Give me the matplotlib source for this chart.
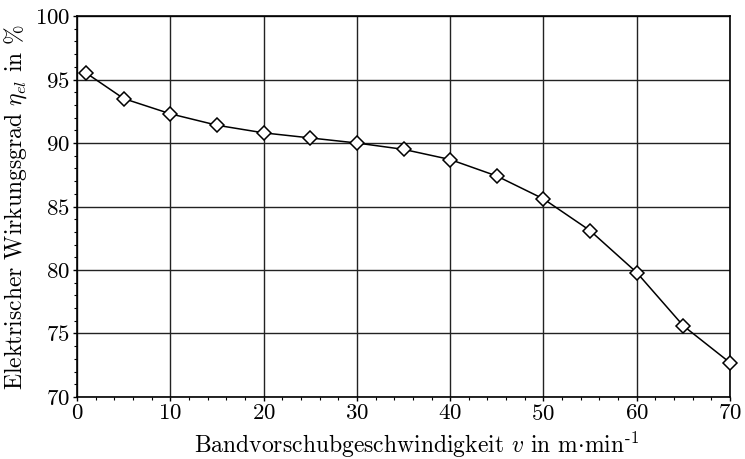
import numpy as np
import matplotlib
matplotlib.use("Agg")
import matplotlib.pyplot as plt
from matplotlib.ticker import MultipleLocator

# Wirkungsgrad ueber Bandvorschubgeschwindigkeit
v = [1, 5, 10, 15, 20, 25, 30, 35, 40, 45, 50, 55, 60, 65, 70]
eta = [95.5, 93.5, 92.3, 91.4, 90.8, 90.4, 90.0, 89.5, 88.7, 87.4,
       85.6, 83.1, 79.8, 75.6, 72.7]

plt.rcParams['font.family'] = ['cmr10', 'DejaVu Serif']
plt.rcParams['mathtext.fontset'] = 'cm'
plt.rcParams['axes.formatter.use_mathtext'] = True

fig = plt.figure(figsize=(7.45, 4.59), dpi=100)
ax = fig.add_axes([0.1034, 0.1351, 0.8765, 0.83])

ax.plot(v, eta, color='black', linewidth=1.1, marker='D', markersize=7.5,
        markerfacecolor='white', markeredgecolor='black', markeredgewidth=1.1,
        clip_on=False, zorder=3)

ax.set_xlim(0, 70)
ax.set_ylim(70, 100)
ax.xaxis.set_major_locator(MultipleLocator(10))
ax.xaxis.set_minor_locator(MultipleLocator(2))
ax.yaxis.set_major_locator(MultipleLocator(5))
ax.yaxis.set_minor_locator(MultipleLocator(1))
ax.grid(True, which='major', color='#222222', linewidth=1.0)
ax.set_axisbelow(True)

ax.tick_params(which='major', length=3, width=1.0, labelsize=16.5, pad=2)
ax.tick_params(which='minor', length=2, width=0.8)
for s in ax.spines.values():
    s.set_linewidth(1.2)

ax.set_xlabel(r'Bandvorschubgeschwindigkeit $v$ in m$\cdot$min$^{\text{-1}}$',
              fontsize=17)
ax.xaxis.set_label_coords(0.52, -0.085)
ax.set_ylabel(r'Elektrischer Wirkungsgrad $\eta_{el}$ in %', fontsize=17,
              labelpad=4)

fig.savefig('out.png', dpi=100)
